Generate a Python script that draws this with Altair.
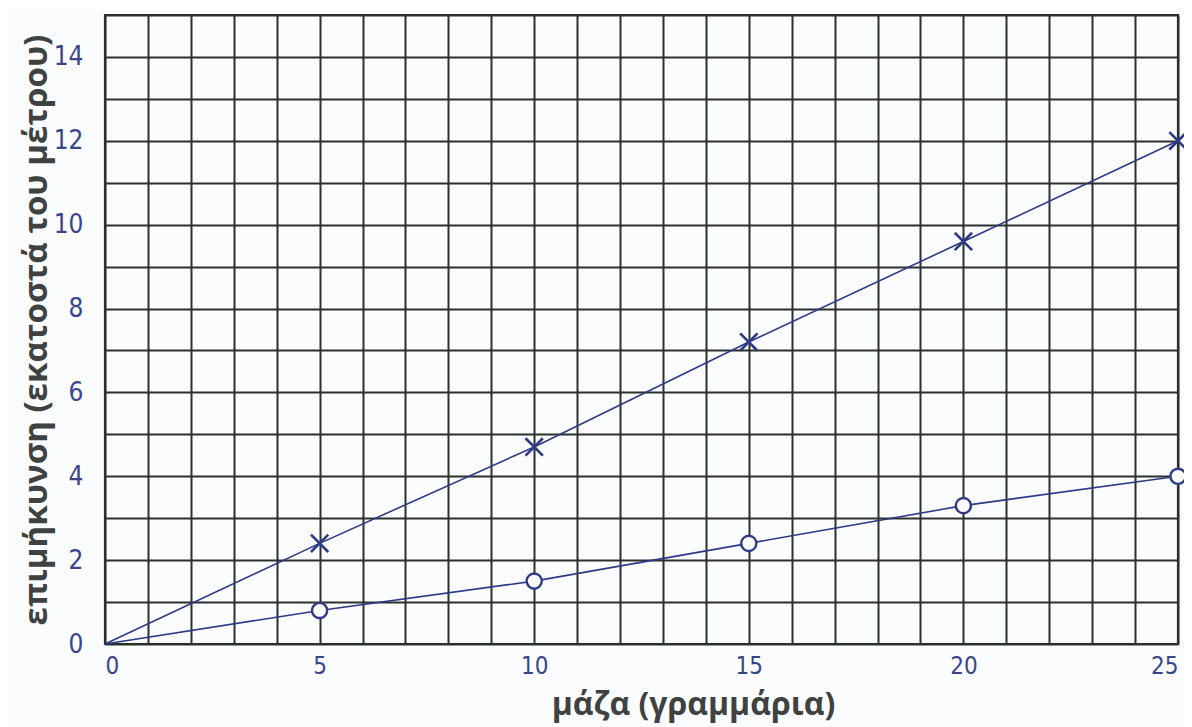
import altair as alt
import pandas as pd

mass = [0, 5, 10, 15, 20, 25]
ext_cross = [0, 2.4, 4.7, 7.2, 9.6, 12.0]
ext_circle = [0, 0.8, 1.5, 2.4, 3.3, 4.0]

x_grid = list(range(0, 26))
y_grid = list(range(0, 16))

df = pd.DataFrame({
    "mass": mass * 2,
    "ext": ext_cross + ext_circle,
    "series": ["x"] * len(mass) + ["o"] * len(mass),
})

NAVY = "#2e3a86"
GRID = "#2b302c"
LABEL = "#3a4488"
TITLE = "#3f4240"

x_enc = alt.X("mass:Q", scale=alt.Scale(domain=[0, 25], nice=False),
              axis=alt.Axis(values=x_grid,
                            labelExpr="datum.value % 5 == 0 ? datum.label : ''",
                            labelFontSize=24, labelPadding=10,
                            title="μάζα (γραμμάρια)", titleX=588, titleY=45,
                            titleAlign="center", titleFontSize=32))
y_enc = alt.Y("ext:Q", scale=alt.Scale(domain=[0, 15], nice=False),
              axis=alt.Axis(values=y_grid,
                            labelExpr="datum.value % 2 == 0 && datum.value < 15 ? datum.label : ''",
                            title="επιμήκυνση (εκατοστά του μέτρου)", titleFontSize=33))

lines = alt.Chart(df).mark_line(color=NAVY, strokeWidth=1.6).encode(
    x=x_enc, y=y_enc, detail="series:N")

crosses = alt.Chart(df).transform_filter("datum.series == 'x' && datum.mass > 0").mark_point(
    shape="M-1,-1L1,1M1,-1L-1,1", color=NAVY, strokeWidth=2.6, size=300, filled=False, opacity=1
).encode(x="mass:Q", y="ext:Q")

circles = alt.Chart(df).transform_filter("datum.series == 'o' && datum.mass > 0").mark_point(
    shape="circle", color=NAVY, strokeWidth=2.4, size=230, filled=False, fill="#fbfcfe",
    fillOpacity=1, opacity=1
).encode(x="mass:Q", y="ext:Q")

chart = alt.layer(lines, crosses, circles).properties(
    width=1073, height=629,
    autosize=alt.AutoSizeParams(type="none"),
    padding={"left": 97, "top": 7, "right": 6, "bottom": 83},
    background="#fbfcfe",
).configure_view(stroke=GRID, strokeWidth=2.2).configure_axis(
    grid=True, gridColor=GRID, gridWidth=2, gridOpacity=1,
    ticks=False, domain=False,
    labelFont="DejaVu Sans Condensed", labelFontSize=26, labelColor=LABEL,
    labelFontWeight=300,
    titleFont="Open Sans", titleFontWeight="bold", titleColor=TITLE,
).configure_axisY(labelPadding=22, titlePadding=0)

chart.save("out.html", embed_options={"renderer": "svg", "actions": False})
